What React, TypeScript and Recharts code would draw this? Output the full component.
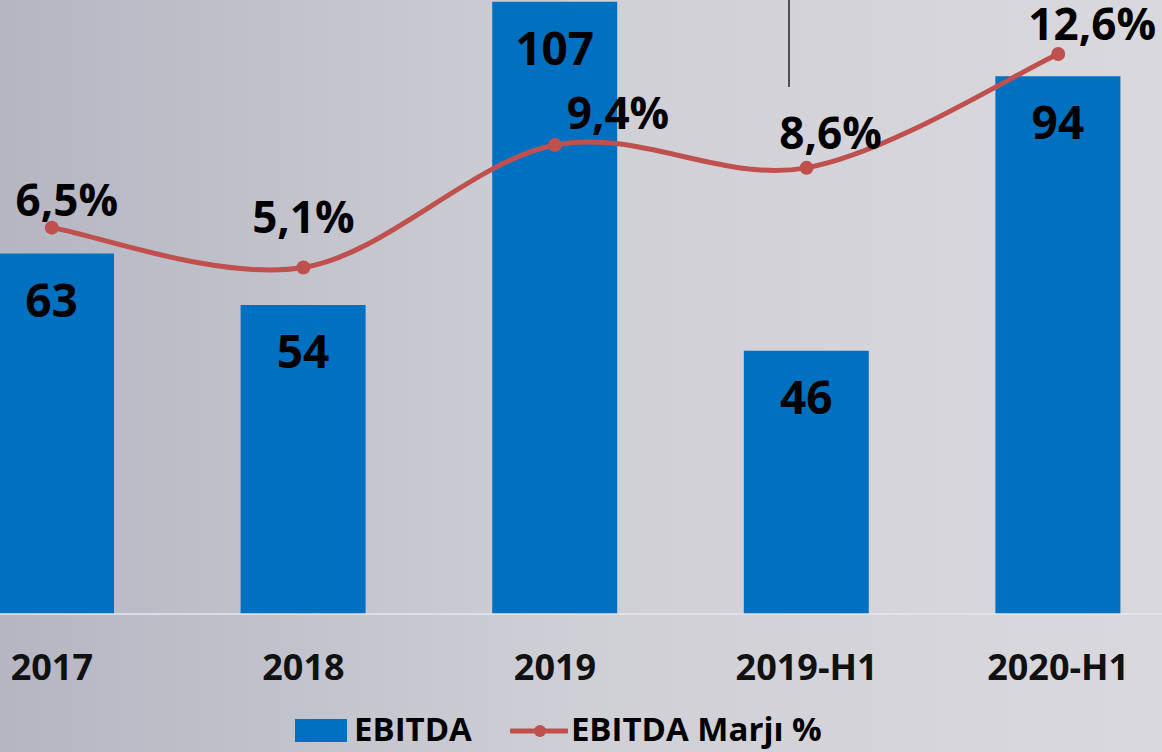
import { ComposedChart, Bar, Line, XAxis, YAxis, LabelList } from "recharts";

const categories = ["2017", "2018", "2019", "2019-H1", "2020-H1"];
const ebitda = [63, 54, 107, 46, 94];
const ebitdaMargin = [6.5, 5.1, 9.4, 8.6, 12.6];

const data = categories.map((year, i) => ({
  year,
  ebitda: ebitda[i],
  margin: ebitdaMargin[i],
}));

// label nudges (dx, baseline dy) relative to each line point
const marginLabelShift = [
  [15, -12],
  [0, -34],
  [63, -16],
  [24, -19],
  [34, -14],
];

const FONT = "'Open Sans', 'Noto Sans', sans-serif";
const BLUE = "#0070C0";
const RED = "#C0504D";

const fmtPct = (v: number) => v.toFixed(1).replace(".", ",") + "%";

// Excel-like smoothed line (Catmull-Rom through the points)
function smoothCurve(context: any) {
  let pts: number[][] = [];
  return {
    areaStart() {},
    areaEnd() {},
    lineStart() {
      pts = [];
    },
    point(x: number, y: number) {
      pts.push([+x, +y]);
    },
    lineEnd() {
      if (!pts.length) return;
      context.moveTo(pts[0][0], pts[0][1]);
      const t = 1 / 6;
      for (let i = 0; i < pts.length - 1; i++) {
        const p0 = pts[i - 1] || pts[i];
        const p1 = pts[i];
        const p2 = pts[i + 1];
        const p3 = pts[i + 2] || p2;
        context.bezierCurveTo(
          p1[0] + (p2[0] - p0[0]) * t,
          p1[1] + (p2[1] - p0[1]) * t,
          p2[0] - (p3[0] - p1[0]) * t,
          p2[1] - (p3[1] - p1[1]) * t,
          p2[0],
          p2[1]
        );
      }
    },
  };
}

const YearTick = (props: any) => {
  const { x, y, payload } = props;
  return (
    <text
      x={x}
      y={y + 64}
      textAnchor="middle"
      fontFamily={FONT}
      fontWeight={700}
      fontSize={36}
      fill="#111"
    >
      {payload.value}
    </text>
  );
};

const BarValue = (props: any) => {
  const { x, y, width, value } = props;
  return (
    <text
      x={x + width / 2}
      y={y + 63}
      textAnchor="middle"
      fontFamily={FONT}
      fontWeight={700}
      fontSize={46}
      fill="#000"
    >
      {value}
    </text>
  );
};

const MarginValue = (props: any) => {
  const { x, y, value, index } = props;
  const [dx, dy] = marginLabelShift[index] || [0, -16];
  return (
    <text
      x={x + dx}
      y={y + dy}
      textAnchor="middle"
      fontFamily={FONT}
      fontWeight={700}
      fontSize={44}
      fill="#000"
    >
      {fmtPct(value)}
    </text>
  );
};

export default function App() {
  return (
    <div
      style={{
        position: "fixed",
        left: 0,
        top: 0,
        width: 1162,
        height: 752,
        overflow: "hidden",
        background: "linear-gradient(to right, #b5b6c2 0%, #cfcfd6 50%, #d9d9dd 100%)",
        fontFamily: FONT,
      }}
    >
      <div style={{ position: "absolute", left: -74, top: -40 }}>
        <ComposedChart
          width={1258}
          height={792}
          data={data}
          margin={{ top: 0, right: 0, left: 0, bottom: 0 }}
        >
          <XAxis
            dataKey="year"
            height={138}
            interval={0}
            tickSize={0}
            tickLine={false}
            axisLine={{ stroke: "#e6e6ea", strokeWidth: 1.5 }}
            tick={<YearTick />}
          />
          <YAxis yAxisId="left" hide domain={[0, 114.3]} allowDataOverflow />
          <YAxis
            yAxisId="right"
            orientation="right"
            hide
            domain={[-7.07, 15.9]}
            allowDataOverflow
          />
          <Bar
            yAxisId="left"
            dataKey="ebitda"
            name="EBITDA"
            fill={BLUE}
            barSize={125}
            isAnimationActive={false}
          >
            <LabelList dataKey="ebitda" content={<BarValue />} />
          </Bar>
          <Line
            yAxisId="right"
            dataKey="margin"
            name="EBITDA Marjı %"
            type={smoothCurve as any}
            stroke={RED}
            strokeWidth={5}
            dot={{ r: 7, fill: RED, stroke: RED, strokeWidth: 0 }}
            activeDot={false}
            isAnimationActive={false}
          >
            <LabelList dataKey="margin" content={<MarginValue />} />
          </Line>
        </ComposedChart>
      </div>

      {/* stray marker line in the source slide */}
      <div
        style={{
          position: "absolute",
          left: 788,
          top: 0,
          width: 2,
          height: 87,
          background: "#4f4f55",
        }}
      />

      <div
        style={{
          position: "absolute",
          left: 295,
          top: 706,
          display: "flex",
          alignItems: "center",
          fontWeight: 700,
          fontSize: 33,
          color: "#000",
          lineHeight: "46px",
        }}
      >
        <span style={{ width: 52, height: 23, background: BLUE, display: "inline-block", marginTop: 3 }} />
        <span style={{ marginLeft: 7 }}>EBITDA</span>
        <svg width={58} height={20} style={{ marginLeft: 38, marginTop: 3 }}>
          <line x1={1} y1={10} x2={57} y2={10} stroke={RED} strokeWidth={5} strokeLinecap="round" />
          <circle cx={30} cy={10} r={6} fill={RED} />
        </svg>
        <span style={{ marginLeft: 3 }}>EBITDA Marjı %</span>
      </div>
    </div>
  );
}
